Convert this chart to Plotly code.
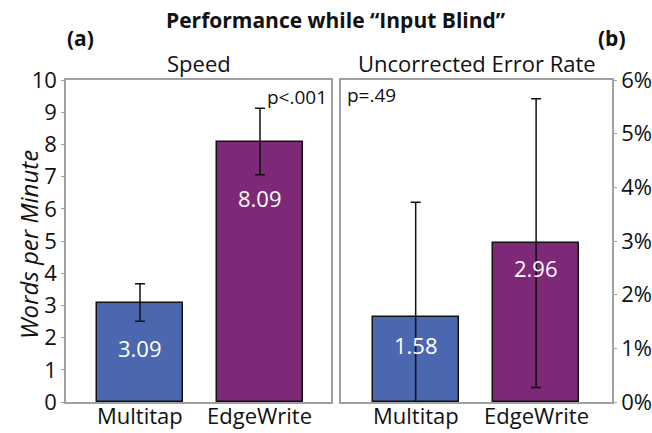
import plotly.graph_objects as go

# Data
techniques = ["Multitap", "EdgeWrite"]
speed_wpm = [3.09, 8.09]
speed_err = [0.58, 1.03]
error_rate_pct = [1.58, 2.96]
error_rate_err = [2.14, 2.69]
bar_colors = ["#4B67AF", "#7E2878"]
speed_ticks = list(range(0, 11))
error_ticks = list(range(0, 7))
error_tick_text = [f"{v}%" for v in error_ticks]

FONT = "Open Sans"
label_shift_speed = [-45, -56]
label_shift_error = [-28, -25]

fig = go.Figure()

fig.add_trace(go.Bar(
    x=techniques, y=speed_wpm, xaxis="x", yaxis="y",
    width=0.717,
    marker=dict(color=bar_colors, line=dict(color="#111111", width=1.5)),
    error_y=dict(type="data", array=speed_err, color="#111111", thickness=1.5, width=5),
    showlegend=False, hoverinfo="skip",
))
fig.add_trace(go.Bar(
    x=techniques, y=error_rate_pct, xaxis="x2", yaxis="y2",
    width=0.714,
    marker=dict(color=bar_colors, line=dict(color="#111111", width=1.5)),
    error_y=dict(type="data", array=error_rate_err, color="#111111", thickness=1.5, width=5),
    showlegend=False, hoverinfo="skip",
))

axis_common = dict(
    showline=True, linecolor="#A0A0A0", linewidth=1.5, mirror=True,
    showgrid=False, zeroline=False, fixedrange=True, automargin=False,
)

y_bottom = 1 - 402 / 433
y_top = 1 - 80 / 433

fig.update_layout(
    width=652, height=433,
    margin=dict(l=0, r=0, t=0, b=0),
    paper_bgcolor="white", plot_bgcolor="white",
    font=dict(family=FONT, color="#111111"),
    bargap=0,
    xaxis=dict(domain=[66 / 652, 331 / 652], range=[-0.617, 1.592],
               ticks="", showticklabels=False, **axis_common),
    xaxis2=dict(domain=[341 / 652, 612 / 652], range=[-0.62, 1.63],
                ticks="", showticklabels=False, **axis_common),
    yaxis=dict(domain=[y_bottom, y_top], range=[0, 10], anchor="x",
               tickvals=speed_ticks, ticks="outside", ticklen=3, tickcolor="#A0A0A0",
               tickfont=dict(size=22), **axis_common),
    yaxis2=dict(domain=[y_bottom, y_top], range=[0, 6], anchor="x2", side="right",
                tickvals=error_ticks, ticktext=error_tick_text, ticks="outside", ticklen=3,
                tickcolor="#A0A0A0", tickfont=dict(size=22), **axis_common),
)

annotations = [
    dict(text="<b>Performance while “Input Blind”</b>", x=336 / 652, y=1 - 20 / 433,
         font=dict(size=21)),
    dict(text="<b>(a)</b>", x=80 / 652, y=1 - 38 / 433, font=dict(size=21)),
    dict(text="<b>(b)</b>", x=612 / 652, y=1 - 38 / 433, font=dict(size=21)),
    dict(text="Speed", x=(66 + 331) / 2 / 652, y=1 - 63 / 433, font=dict(size=22)),
    dict(text="Uncorrected Error Rate", x=(341 + 612) / 2 / 652, y=1 - 63 / 433,
         font=dict(size=22)),
    dict(text="p<.001", x=329 / 652, y=1 - 97 / 433, xanchor="right", font=dict(size=19)),
    dict(text="p=.49", x=345 / 652, y=1 - 95 / 433, xanchor="left", font=dict(size=19)),
    dict(text="<i>Words per Minute</i>", x=28 / 652, y=1 - 245 / 433, textangle=-90,
         font=dict(size=24)),
]
for a in annotations:
    a.update(xref="paper", yref="paper", showarrow=False)
    a.setdefault("xanchor", "center")
    a.setdefault("yanchor", "middle")

# Category names under each panel
for xr in ("x", "x2"):
    for t in techniques:
        annotations.append(dict(text=t, x=t, xref=xr, y=1 - 415 / 433, yref="paper",
                                xanchor="center", yanchor="middle", showarrow=False,
                                font=dict(size=22)))

# Value labels inside the bars
for t, v, s in zip(techniques, speed_wpm, label_shift_speed):
    annotations.append(dict(text=f"{v:.2f}", x=t, y=v, xref="x", yref="y", yshift=s,
                            showarrow=False, font=dict(size=22, color="white")))
for t, v, s in zip(techniques, error_rate_pct, label_shift_error):
    annotations.append(dict(text=f"{v:.2f}", x=t, y=v, xref="x2", yref="y2", yshift=s,
                            showarrow=False, font=dict(size=22, color="white")))

fig.update_layout(annotations=annotations)

fig.write_html("out.html")
